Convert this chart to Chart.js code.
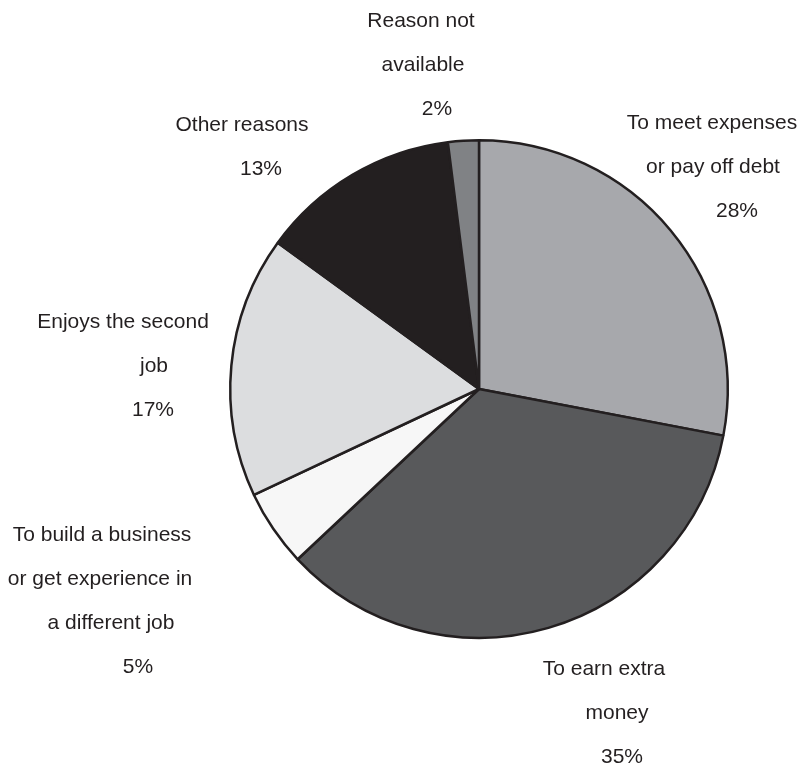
<!DOCTYPE html>
<html>
<head>
<meta charset="utf-8">
<script src="https://cdn.jsdelivr.net/npm/chart.js@4.4.1/dist/chart.umd.min.js"></script>
<style>
  html, body { margin: 0; padding: 0; background: #fff; }
  #wrap { width: 801px; height: 767px; position: relative; }
</style>
</head>
<body>
<div id="wrap"><canvas id="reasonsChart"></canvas></div>
<script>
// reasons for holding a second job, clockwise from 12 o'clock
const categories = [
    ['To meet expenses', 'or pay off debt'],
    ['To earn extra', 'money'],
    ['To build a business', 'or get experience in', 'a different job'],
    ['Enjoys the second', 'job'],
    ['Other reasons'],
    ['Reason not', 'available']
];
const shares = [28, 35, 5, 17, 13, 2];
const sliceColors = ['#a7a8ac', '#58595b', '#f7f7f7', '#dcdddf', '#231f20', '#808285'];

// label placement relative to the pie centre: x centre of each line, y of first line
const labelX = [
    [233, 234, 258],
    [125, 138, 143],
    [-377, -379, -368, -341],
    [-356, -325, -326],
    [-237, -218],
    [-58, -56, -42]
];
const labelY = [-266, 280, 146, -67, -264, -368];
const lineStep = 44;

const sliceLabels = {
    id: 'sliceLabels',
    afterDraw(chart) {
        const ctx = chart.ctx;
        const arc = chart.getDatasetMeta(0).data[0];
        const cx = arc.x, cy = arc.y;
        ctx.save();
        ctx.font = '21px "Liberation Sans", Arial, sans-serif';
        ctx.fillStyle = '#231f20';
        ctx.textAlign = 'center';
        ctx.textBaseline = 'middle';
        chart.data.labels.forEach((lines, i) => {
            const rows = lines.concat([chart.data.datasets[0].data[i] + '%']);
            rows.forEach((txt, j) => {
                ctx.fillText(txt, cx + labelX[i][j], cy + labelY[i] + j * lineStep);
            });
        });
        ctx.restore();
    }
};

new Chart(document.getElementById('reasonsChart'), {
    type: 'pie',
    data: {
        labels: categories,
        datasets: [{
            data: shares,
            backgroundColor: sliceColors,
            borderColor: '#231f20',
            borderWidth: 2.5
        }]
    },
    options: {
        responsive: true,
        maintainAspectRatio: false,
        animation: false,
        layout: {
            padding: { left: 229, right: 72, top: 139, bottom: 128 }
        },
        plugins: {
            legend: { display: false },
            tooltip: { enabled: false }
        }
    },
    plugins: [sliceLabels]
});
</script>
</body>
</html>
